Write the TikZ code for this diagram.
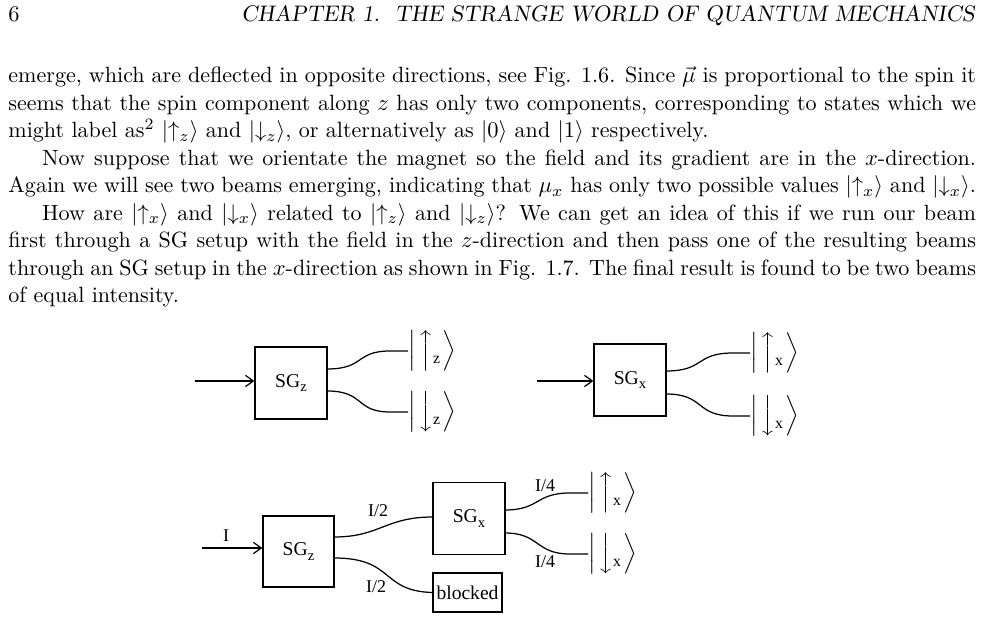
\documentclass[tikz,border=0pt]{standalone}
\usepackage{fontspec}
\usetikzlibrary{arrows.meta,calc}
\newfontfamily\tms{Liberation Serif}
\newcommand{\ket}[2]{{\fontsize{10}{12}\selectfont$\Big|\mkern2mu\Big#1$\raisebox{-3pt}{\tms\fontsize{7}{8}\selectfont #2}$\mkern2mu\Big\rangle$}}
\newcommand{\sglab}[1]{{\tms SG\raisebox{-2.2pt}{\fontsize{6.5}{7}\selectfont #1}}}
\tikzset{
  sgbox/.style={draw,line width=0.55pt,minimum width=32pt,minimum height=32pt,inner sep=0pt,font=\tms\fontsize{8.7}{10}\selectfont},
  ketnode/.style={anchor=west,inner sep=0pt,outer sep=0pt},
  beam/.style={line width=0.55pt},
  inbeam/.style={line width=0.55pt,-{Straight Barb[length=3.5pt,width=5pt]}},
  lab/.style={font=\tms\fontsize{8}{9}\selectfont,inner sep=0pt}
}
\begin{document}
\begin{tikzpicture}[x=0.4444pt,y=-0.4444pt]
\useasboundingbox (0,0) rectangle (983,619);
% header and text
\node[anchor=base west,inner sep=0pt] (pg) at (8,22) {\fontsize{10}{12.2}\selectfont 6};
\node[anchor=base east,inner sep=0pt] (hd) at (975,22) {\fontsize{10}{12.2}\selectfont\slshape CHAPTER 1.\ \ THE STRANGE WORLD OF QUANTUM MECHANICS};
\node[anchor=base west,inner sep=0pt] (txt) at (8,83) {\vtop{\hsize=430pt\fontsize{9.8}{12.2}\selectfont\parindent=15pt\noindent
emerge, which are deflected in opposite directions, see Fig. 1.6. Since $\vec\mu$ is proportional to the spin it\linebreak
seems that the spin component along $z$ has only two components, corresponding to states which we\linebreak
might label as$^2$ $\mid\uparrow_z\rangle$ and $\mid\downarrow_z\rangle$, or alternatively as $|0\rangle$ and $|1\rangle$ respectively.\par
Now suppose that we orientate the magnet so the field and its gradient are in the $x$-direction.\linebreak
Again we will see two beams emerging, indicating that $\mu_x$ has only two possible values $\mid\uparrow_x\rangle$ and $\mid\downarrow_x\rangle$.\par
How are $\mid\uparrow_x\rangle$ and $\mid\downarrow_x\rangle$ related to $\mid\uparrow_z\rangle$ and $\mid\downarrow_z\rangle$? We can get an idea of this if we run our beam\linebreak
first through a SG setup with the field in the $z$-direction and then pass one of the resulting beams\linebreak
through an SG setup in the $x$-direction as shown in Fig. 1.7. The final result is found to be two beams\linebreak
of equal intensity.\par}};
% top-left
\node[sgbox] (z1) at (291,383) {\sglab{z}};
\coordinate (i1) at (195,381);
\draw[inbeam] (i1) -- (z1.west |- i1);
\node[ketnode] (k1u) at (408,351) {\ket{\uparrow}{z}};
\node[ketnode] (k1d) at (408,412) {\ket{\downarrow}{z}};
\draw[beam] (327,369) .. controls (365,369) and (355,351) .. (390,351) -- (k1u.west);
\draw[beam] (327,391) .. controls (365,391) and (355,412) .. (390,412) -- (k1d.west);
% top-right
\node[sgbox] (x1) at (630,380) {\sglab{x}};
\coordinate (i2) at (537,381);
\draw[inbeam] (i2) -- (x1.west |- i2);
\node[ketnode] (k2u) at (750,353) {\ket{\uparrow}{x}};
\node[ketnode] (k2d) at (750,416) {\ket{\downarrow}{x}};
\draw[beam] (666,371) .. controls (705,371) and (695,353) .. (733,353) -- (k2u.west);
\draw[beam] (666,394) .. controls (705,394) and (695,416) .. (733,416) -- (k2d.west);
% bottom
\node[sgbox,minimum width=31.6pt,minimum height=31.6pt] (z2) at (298.5,551.5) {\sglab{z}};
\coordinate (i3) at (202,548);
\draw[inbeam] (i3) -- (z2.west |- i3);
\node[lab] (lI) at (226,536) {I};
\node[sgbox] (x2) at (469,518.5) {\sglab{x}};
\node[draw,line width=0.55pt,minimum width=30.7pt,minimum height=17.3pt,inner sep=0pt,font=\tms\fontsize{8.7}{10}\selectfont] (bl) at (467.5,592.5) {blocked};
\draw[beam] (334,537) .. controls (380,537) and (385,517) .. (433,517);
\draw[beam] (334,558) .. controls (395,558) and (380,591) .. (bl.west);
\node[lab] (h1) at (378,511) {I/2};
\node[lab] (h2) at (376,587) {I/2};
\node[ketnode] (k3u) at (588,493) {\ket{\uparrow}{x}};
\node[ketnode] (k3d) at (588,554) {\ket{\downarrow}{x}};
\draw[beam] (505,510) .. controls (540,510) and (535,493) .. (570,493) -- (k3u.west);
\draw[beam] (505,533) .. controls (540,533) and (535,554) .. (570,554) -- (k3d.west);
\node[lab] (q1) at (545,486) {I/4};
\node[lab] (q2) at (545,562) {I/4};
\end{tikzpicture}
\end{document}
